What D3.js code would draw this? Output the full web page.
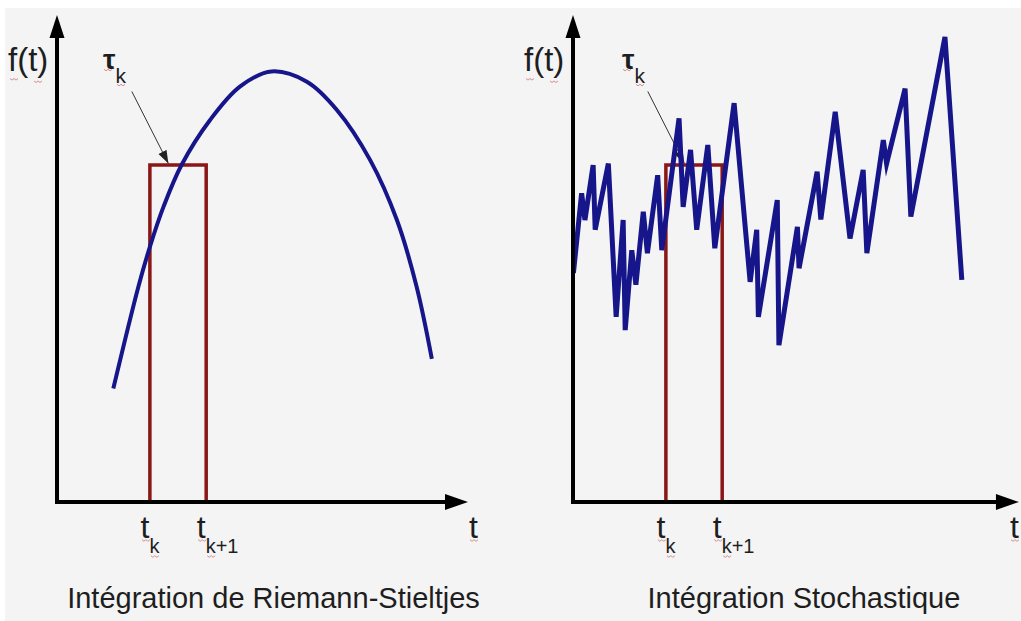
<!DOCTYPE html>
<html>
<head>
<meta charset="utf-8">
<script src="https://cdn.jsdelivr.net/npm/d3@7"></script>
<style>
  html, body { margin: 0; padding: 0; background: #ffffff; }
  svg { display: block; }
  text { font-family: "Liberation Sans", Arial, sans-serif; fill: #1e1e1e; }
</style>
</head>
<body>
<svg id="chart" width="1021" height="621"></svg>
<script>
// ---------------- data ----------------
const panelTitles = ["Intégration de Riemann-Stieltjes", "Intégration Stochastique"];
const axisLabelY = "f(t)";
const axisLabelX = "t";
const tauLabel = "τ";
const tickBase = "t";
const tickSubs = ["k", "k+1"];
const tickValues = [2.26, 3.63];      // t_k, t_{k+1}
const rectHeight = 6.92;              // f(τ_k)
const tauFrom = [1.82, 8.43];         // annotation start (t, f)
const tauTo = [2.71, 6.95];           // annotation end (t, f)

// Riemann-Stieltjes: smooth curve
const smoothT = [1.37, 1.98, 2.26, 2.59, 3.03, 3.72, 4.45, 5.22, 6.08, 6.81, 7.62, 8.27, 8.75, 9.12];
const smoothF = [2.33, 4.42, 5.24, 6.06, 6.92, 7.84, 8.53, 8.84, 8.63, 8.05, 7.02, 5.79, 4.42, 2.94];

// Stochastic: jagged path
const roughT = [0.01, 0.21, 0.29, 0.49, 0.54, 0.86, 1.05, 1.22, 1.27, 1.43, 1.53, 1.71, 1.81, 2.06, 2.16,
                2.58, 2.68, 2.86, 3.01, 3.28, 3.45, 3.92, 4.31, 4.47, 4.51, 4.97, 5.01, 5.46, 5.50, 5.94,
                6.03, 6.38, 6.74, 7.06, 7.15, 7.55, 7.63, 8.08, 8.22, 9.05, 9.46];
const roughF = [4.70, 6.34, 5.79, 6.92, 5.59, 6.95, 3.80, 5.79, 3.53, 5.17, 4.46, 5.96, 5.11, 6.71, 5.17,
                7.88, 6.06, 7.23, 5.59, 7.33, 5.21, 8.19, 4.52, 5.59, 3.80, 6.20, 3.22, 5.65, 4.80, 6.78,
                5.80, 8.01, 5.41, 6.82, 5.11, 7.43, 6.95, 8.49, 5.86, 9.55, 4.56];

const xDomains = [[0, 10], [0, 10.85]];
const yDomain = [0, 10];

// ---------------- drawing ----------------
const svg = d3.select("#chart");
svg.append("rect").attr("x", 0).attr("y", 0).attr("width", 1021).attr("height", 621).attr("fill", "#ffffff");
svg.append("rect").attr("x", 5).attr("y", 8).attr("width", 1016).attr("height", 613).attr("fill", "#f4f4f4");

const defs = svg.append("defs");
defs.append("marker")
  .attr("id", "annArrow")
  .attr("markerUnits", "userSpaceOnUse")
  .attr("markerWidth", 14).attr("markerHeight", 10)
  .attr("refX", 13).attr("refY", 4.5)
  .attr("orient", "auto")
  .append("path").attr("d", "M0,0 L13,4.5 L0,9 Z").attr("fill", "#222");

const y = d3.scaleLinear().domain(yDomain).range([502, 15]);
const originsX = [57, 573];
const pxPerUnit = 41.1;

const BLUE = "#16168a";
const RED = "#8a1616";
const SQUIG = "#d98c8c";

function squiggle(g, x0, y0, w) {
  const pts = d3.range(0, Math.round(w / 2) + 1).map(i => [x0 + i * 2, y0 + (i % 2 ? 1.3 : -0.3)]);
  g.append("path").attr("d", d3.line()(pts)).attr("fill", "none")
    .attr("stroke", SQUIG).attr("stroke-width", 1);
}

panelTitles.forEach((title, p) => {
  const dom = xDomains[p];
  const x = d3.scaleLinear().domain(dom).range([originsX[p], originsX[p] + (dom[1] - dom[0]) * pxPerUnit]);
  const g = svg.append("g");
  const x0 = x(0), y0 = y(0), xTip = x(dom[1]), yTip = y(yDomain[1]);

  // annotation arrow τ_k
  g.append("line")
    .attr("x1", x(tauFrom[0])).attr("y1", y(tauFrom[1]))
    .attr("x2", x(tauTo[0])).attr("y2", y(tauTo[1]))
    .attr("stroke", "#333").attr("stroke-width", 1)
    .attr("marker-end", "url(#annArrow)");

  // rectangle (open at the bottom, standing on the axis)
  g.append("path")
    .attr("d", d3.line()([[x(tickValues[0]), y0], [x(tickValues[0]), y(rectHeight)],
                          [x(tickValues[1]), y(rectHeight)], [x(tickValues[1]), y0]]))
    .attr("fill", "none").attr("stroke", RED).attr("stroke-width", 3.5)
    .attr("stroke-linejoin", "miter");

  // series
  if (p === 0) {
    const pts = smoothT.map((t, i) => [t, smoothF[i]]);
    g.append("path")
      .attr("d", d3.line().x(d => x(d[0])).y(d => y(d[1])).curve(d3.curveCatmullRom.alpha(0.5))(pts))
      .attr("fill", "none").attr("stroke", BLUE).attr("stroke-width", 4);
  } else {
    const pts = roughT.map((t, i) => [t, roughF[i]]);
    g.append("path")
      .attr("d", d3.line().x(d => x(d[0])).y(d => y(d[1])).curve(d3.curveLinear)(pts))
      .attr("fill", "none").attr("stroke", BLUE).attr("stroke-width", 5)
      .attr("stroke-linejoin", "miter").attr("stroke-miterlimit", 6);
  }

  // axes
  const headLenY = 23, headHalfY = 7.5, headLenX = 23, headHalfX = 8;
  g.append("path")
    .attr("d", `M${x0},${yTip + headLenY - 1}L${x0},${y0}L${xTip - headLenX + 1},${y0}`)
    .attr("fill", "none").attr("stroke", "#000").attr("stroke-width", 4)
    .attr("stroke-linejoin", "miter").attr("stroke-linecap", "butt");
  g.append("path")
    .attr("d", `M${x0},${yTip}L${x0 + headHalfY},${yTip + headLenY}L${x0 - headHalfY},${yTip + headLenY}Z`)
    .attr("fill", "#000");
  g.append("path")
    .attr("d", `M${xTip},${y0}L${xTip - headLenX},${y0 - headHalfX}L${xTip - headLenX},${y0 + headHalfX}Z`)
    .attr("fill", "#000");

  // y-axis label f(t)
  g.append("text").attr("x", x0 - 49).attr("y", y(8.86))
    .attr("font-size", 33).text(axisLabelY);
  squiggle(g, x0 - 47, y(8.69), 7);
  squiggle(g, x0 - 23, y(8.64), 7);

  // τ_k label
  const tauX = x(1.12) + (p === 1 ? 3 : 0);
  const tauY = y(8.90);
  const tt = g.append("text").attr("x", tauX).attr("y", tauY).attr("font-size", 28)
    .attr("font-weight", "bold");
  tt.append("tspan").text(tauLabel);
  tt.append("tspan").attr("font-size", 21).attr("font-weight", "normal").attr("dx", 0).attr("dy", 14.5).text(tickSubs[0]);
  squiggle(g, tauX + 1, tauY + 1, 8);
  squiggle(g, tauX + 14, tauY + 16, 7);

  // tick labels t_k and t_{k+1}
  tickValues.forEach((v, i) => {
    const tx = x(v);
    g.append("text").attr("x", tx - 9.5).attr("y", 538).attr("font-size", 32).text(tickBase);
    g.append("text").attr("x", tx - 0.5).attr("y", 553).attr("font-size", 20).text(tickSubs[i]);
    squiggle(g, tx - 8, 540, 8);
    squiggle(g, tx + 1, 556, 8);
  });

  // x-axis label t
  const lblX = Math.min(xTip + 1, 1021 - 11);
  g.append("text").attr("x", lblX).attr("y", 538).attr("font-size", 32).text(axisLabelX);
  squiggle(g, lblX + 1, 540, 8);

  // panel title
  g.append("text").attr("x", (x0 + xTip) / 2 + (p === 0 ? 11 : 8)).attr("y", 608)
    .attr("text-anchor", "middle").attr("font-size", 29).text(title);
});
</script>
</body>
</html>
